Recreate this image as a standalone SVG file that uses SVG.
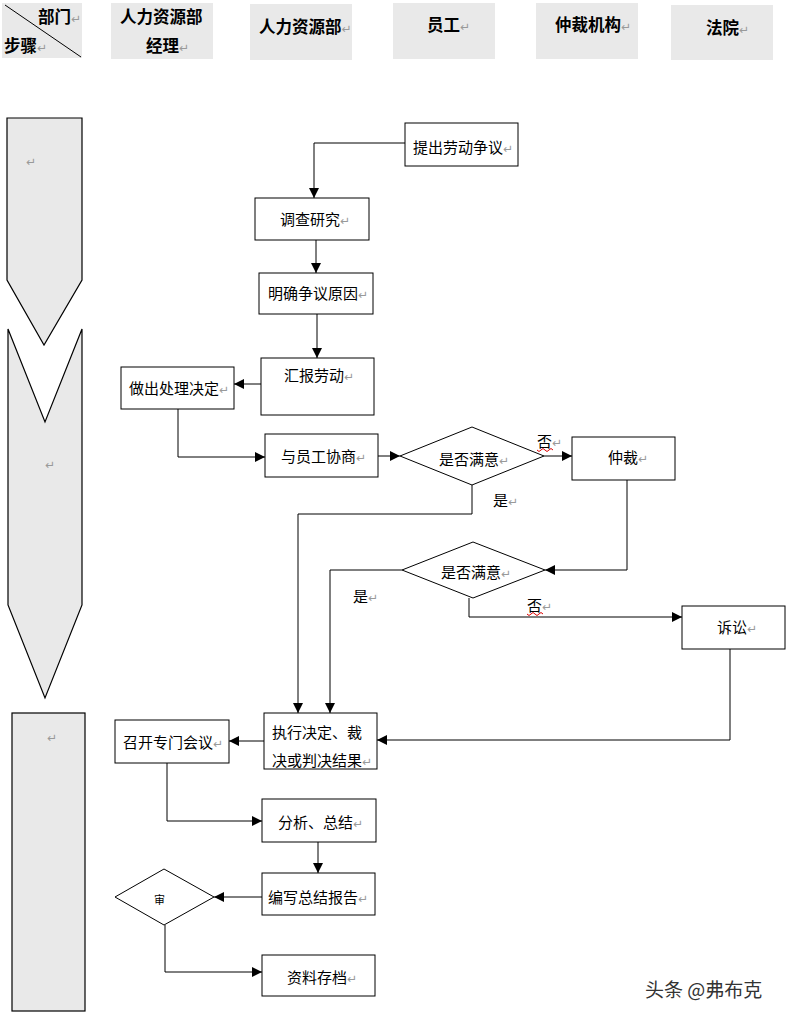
<svg xmlns="http://www.w3.org/2000/svg" width="788" height="1016" viewBox="0 0 788 1016">
<defs>
<style>
.hdr{fill:#e9e9e9;stroke:none}
.ht{font-family:"Noto Sans CJK SC","Noto Sans",sans-serif;font-size:16.5px;font-weight:bold;fill:#000}
.t{font-family:"Noto Sans CJK SC","Noto Sans",sans-serif;font-size:15px;fill:#000}
.p{font-family:"DejaVu Sans",sans-serif;font-size:12px;fill:#999;font-weight:normal}
.box{fill:#fff;stroke:#000;stroke-width:1}
.lane{fill:#e9e9e9;stroke:#000;stroke-width:1.2}
.c{fill:none;stroke:#000;stroke-width:1}
.wav{fill:none;stroke:#d00;stroke-width:1}
.wm{font-family:"Noto Sans CJK SC",sans-serif;font-size:19px;fill:#333;stroke:#fff;stroke-width:0.6;paint-order:stroke}
</style>
<marker id="ah" viewBox="0 0 10 10" refX="10" refY="5" markerWidth="10" markerHeight="10" markerUnits="userSpaceOnUse" orient="auto">
<path d="M0,0 L10,5 L0,10 Z" fill="#000"/>
</marker>
</defs>
<rect width="788" height="1016" fill="#fff"/>

<g id="header">
<rect class="hdr" x="2" y="3" width="80" height="55"/>
<line x1="5" y1="5" x2="81" y2="57" stroke="#000" stroke-width="1"/>
<text class="ht" x="38" y="23">部门<tspan class="p">↵</tspan></text>
<text class="ht" x="4" y="52">步骤<tspan class="p">↵</tspan></text>
<rect class="hdr" x="111" y="3" width="102" height="56"/>
<text class="ht" x="120" y="23">人力资源部</text>
<text class="ht" x="146" y="52">经理<tspan class="p">↵</tspan></text>
<rect class="hdr" x="250" y="4" width="102" height="56"/>
<text class="ht" x="259" y="33">人力资源部<tspan class="p">↵</tspan></text>
<rect class="hdr" x="393" y="3" width="102" height="56"/>
<text class="ht" x="427" y="31">员工<tspan class="p">↵</tspan></text>
<rect class="hdr" x="536" y="3" width="102" height="56"/>
<text class="ht" x="555" y="31">仲裁机构<tspan class="p">↵</tspan></text>
<rect class="hdr" x="671" y="5" width="102" height="55"/>
<text class="ht" x="706" y="34">法院<tspan class="p">↵</tspan></text>
</g>

<g id="lanes">
<path class="lane" d="M7,118 L82,118 L82,280 L44,345 L7,280 Z"/>
<text class="p" x="26" y="166">↵</text>
<path class="lane" d="M8,329 L45,422 L82,329 L82,605 L45,698 L8,605 Z"/>
<text class="p" x="45" y="469">↵</text>
<rect class="lane" x="12" y="713" width="73" height="298"/>
<text class="p" x="47" y="742">↵</text>
</g>

<g id="connectors">
<path class="c" d="M405,143 H314 V198" marker-end="url(#ah)"/>
<path class="c" d="M316,240 V273" marker-end="url(#ah)"/>
<path class="c" d="M317,314 V358" marker-end="url(#ah)"/>
<path class="c" d="M261,384 H234" marker-end="url(#ah)"/>
<path class="c" d="M178,409 V457 H265" marker-end="url(#ah)"/>
<path class="c" d="M378,456 H400" marker-end="url(#ah)"/>
<path class="c" d="M544,456 H572" marker-end="url(#ah)"/>
<path class="c" d="M472,485 V514 H298 V713" marker-end="url(#ah)"/>
<path class="c" d="M627,480 V570 H545" marker-end="url(#ah)"/>
<path class="c" d="M402,570 H330 V713" marker-end="url(#ah)"/>
<path class="c" d="M469,598 V617 H682" marker-end="url(#ah)"/>
<path class="c" d="M730,649 V740 H377" marker-end="url(#ah)"/>
<path class="c" d="M264,741 H229" marker-end="url(#ah)"/>
<path class="c" d="M167,763 V821 H262" marker-end="url(#ah)"/>
<path class="c" d="M318,842 V873" marker-end="url(#ah)"/>
<path class="c" d="M262,897 H214" marker-end="url(#ah)"/>
<path class="c" d="M165,925 V972 H262" marker-end="url(#ah)"/>
</g>

<g id="n1"><rect class="box" x="405" y="123" width="113" height="43"/><text class="t" x="413" y="153">提出劳动争议<tspan class="p">↵</tspan></text></g>
<g id="n2"><rect class="box" x="255" y="198" width="114" height="42"/><text class="t" x="280" y="225">调查研究<tspan class="p">↵</tspan></text></g>
<g id="n3"><rect class="box" x="259" y="273" width="114" height="41"/><text class="t" x="268" y="299">明确争议原因<tspan class="p">↵</tspan></text></g>
<g id="n4"><rect class="box" x="261" y="358" width="113" height="57"/><text class="t" x="284" y="381">汇报劳动<tspan class="p">↵</tspan></text></g>
<g id="n5"><rect class="box" x="121" y="367" width="113" height="42"/><text class="t" x="129" y="394">做出处理决定<tspan class="p">↵</tspan></text></g>
<g id="n6"><rect class="box" x="265" y="434" width="113" height="43"/><text class="t" x="281" y="462">与员工协商<tspan class="p">↵</tspan></text></g>
<g id="d1"><path class="box" d="M400,456 L472,427 L544,456 L472,485 Z"/><text class="t" x="439" y="465">是否满意<tspan class="p">↵</tspan></text></g>
<g id="n7"><rect class="box" x="572" y="437" width="103" height="43"/><text class="t" x="608" y="463">仲裁<tspan class="p">↵</tspan></text></g>
<g id="d2"><path class="box" d="M402,570 L473,542 L545,570 L473,598 Z"/><text class="t" x="441" y="578">是否满意<tspan class="p">↵</tspan></text></g>
<g id="n8"><rect class="box" x="682" y="606" width="103" height="43"/><text class="t" x="717" y="633">诉讼<tspan class="p">↵</tspan></text></g>
<g id="n9"><rect class="box" x="264" y="713" width="113" height="56"/><text class="t" x="272" y="738">执行决定、裁</text><text class="t" x="272" y="766">决或判决结果<tspan class="p">↵</tspan></text></g>
<g id="n10"><rect class="box" x="115" y="720" width="114" height="43"/><text class="t" x="123" y="748">召开专门会议<tspan class="p">↵</tspan></text></g>
<g id="n11"><rect class="box" x="262" y="799" width="114" height="43"/><text class="t" x="278" y="828">分析、总结<tspan class="p">↵</tspan></text></g>
<g id="n12"><rect class="box" x="262" y="873" width="113" height="42"/><text class="t" x="268" y="903">编写总结报告<tspan class="p">↵</tspan></text></g>
<g id="d3"><path class="box" d="M115,897 L164,869 L214,897 L164,925 Z"/><text class="t" x="154" y="904" style="font-size:11px">审</text></g>
<g id="n13"><rect class="box" x="262" y="955" width="113" height="41"/><text class="t" x="287" y="983">资料存档<tspan class="p">↵</tspan></text></g>

<g id="labels">
<text class="t" x="537" y="447">否<tspan class="p">↵</tspan></text>
<path class="wav" d="M537,450 q2,3 4,0 t4,0 t4,0 t4,0"/>
<text class="t" x="493" y="506">是<tspan class="p">↵</tspan></text>
<text class="t" x="353" y="602">是<tspan class="p">↵</tspan></text>
<text class="t" x="527" y="611">否<tspan class="p">↵</tspan></text>
<path class="wav" d="M527,614 q2,3 4,0 t4,0 t4,0 t4,0"/>
</g>

<text class="wm" x="645" y="997">头条 @弗布克</text>
</svg>
